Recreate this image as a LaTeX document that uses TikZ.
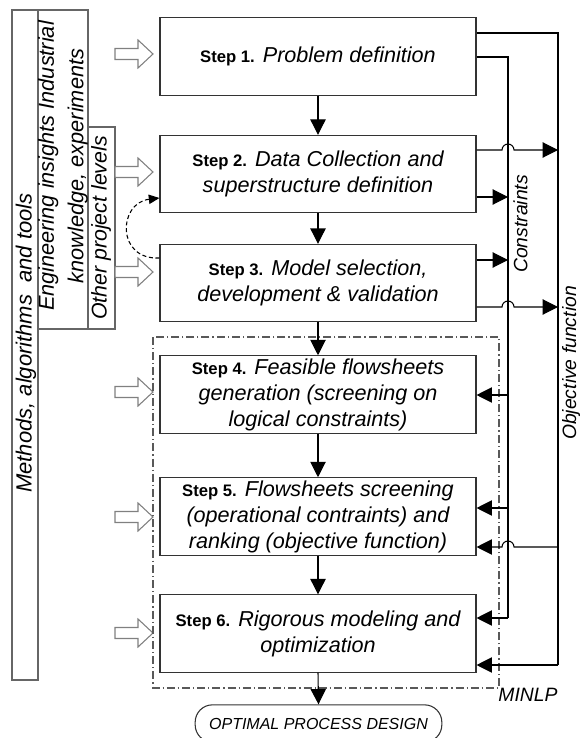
\documentclass[tikz,border=0pt]{standalone}
\usepackage{fontspec}
\setmainfont{Liberation Sans}
\usetikzlibrary{arrows.meta,calc}
\newcommand{\stl}[1]{{\fontsize{12.5}{19.5}\selectfont\bfseries\upshape #1}}
\begin{document}
\begin{tikzpicture}[x=0.75pt,y=-0.75pt,
  stepbox/.style={draw=black!80,line width=0.8pt,minimum width=237pt,minimum height=58pt,
    align=center,font=\fontsize{16.2}{19.5}\selectfont\itshape,inner sep=2pt},
  ln/.style={line width=0.8pt},
  arr/.style={ln,-{Triangle[width=11.5pt,length=11.5pt]}},
  hollow/.style={draw=black!50,line width=0.8pt,fill=white},
  lbox/.style={draw=black!60,line width=0.8pt},
  lefttxt/.style={rotate=90,align=center,font=\fontsize{16.5}{17}\selectfont\itshape,inner sep=0pt},
  sidetxt/.style={rotate=90,font=\fontsize{14.5}{16}\selectfont\itshape,inner sep=0pt},
  mdash/.style={draw=black!65,line width=0.8pt,dash pattern=on 6pt off 2.2pt on 1pt off 2.2pt}
]
\useasboundingbox (0,0) rectangle (581,738);
\clip (0,0) rectangle (581,738);

% left panels
\draw[lbox] (12,10) rectangle (38,680);
\draw[lbox] (38,10) rectangle (88,329);
\draw[lbox] (88,127) rectangle (115,329);
\node[lefttxt] (meth) at (26,343) {Methods, algorithms\ \ and tools};
\node[lefttxt,font=\fontsize{16.3}{22}\selectfont\itshape] (eng) at (63,166) {Engineering insights Industrial\\knowledge, experiments};
\node[lefttxt,font=\fontsize{16}{17}\selectfont\itshape] (oth) at (101,228) {Other project levels};

% hollow arrows
\foreach \y in {54,172,272,392,517,633}{
  \draw[hollow] (115,\y-5.5) -- (138,\y-5.5) -- (138,\y-14) -- (153,\y) -- (138,\y+14) -- (138,\y+5.5) -- (115,\y+5.5) -- cycle;
}

% MINLP dash-dot frame
\draw[mdash] (153,337) rectangle (499,688);
\node[font=\fontsize{14.5}{16}\selectfont\itshape,inner sep=0pt] (minlp) at (528,695) {MINLP};

% steps
\node[stepbox] (s1) at (318,56.5) {\stl{Step 1.} Problem definition};
\node[stepbox] (s2) at (318,174) {\stl{Step 2.} Data Collection and\\superstructure definition};
\node[stepbox] (s3) at (318,283) {\stl{Step 3.} Model selection,\\development \& validation};
\node[stepbox] (s4) at (318,394.5) {\stl{Step 4.} Feasible flowsheets\\generation (screening on\\logical constraints)};
\node[stepbox] (s5) at (318,516.5) {\stl{Step 5.} Flowsheets screening\\(operational contraints) and\\ranking (objective function)};
\node[stepbox] (s6) at (318,633.5) {\stl{Step 6.} Rigorous modeling and\\optimization};
\node[draw=black!80,line width=0.8pt,rounded corners=13pt,minimum width=185pt,minimum height=28pt,
  font=\fontsize{12}{14}\selectfont\itshape,inner sep=1pt] (t) at (318.5,723.5) {OPTIMAL PROCESS DESIGN};

% vertical flow
\draw[arr] (s1.south) -- (s2.north);
\draw[arr] (s2.south) -- (s3.north);
\draw[arr] (s3.south) -- (s4.north);
\draw[arr] (s4.south) -- (s5.north);
\draw[arr] (s5.south) -- (s6.north);
\draw[arr] (s6.south) -- (t.north);

% feedback dashed
\coordinate (dA) at (0,258);
\coordinate (dB) at (0,198);
\draw[line width=0.8pt,dash pattern=on 3pt off 2pt,-{Triangle[width=7pt,length=8pt]}]
  (s3.west |- dA) .. controls (116,260) and (118,203) .. (s2.west |- dB);

% right-side connectors
\coordinate (objTop) at (558,33);
\coordinate (consTop) at (508,57);
\coordinate (o2) at (558,150);
\coordinate (c2) at (508,197);
\coordinate (c3) at (508,260);
\coordinate (o3) at (558,307);
\coordinate (c4) at (508,395);
\coordinate (c5) at (508,508);
\coordinate (o5) at (558,547);
\coordinate (c6) at (508,618);
\coordinate (o6) at (558,665);

\draw[ln] (s1.east |- objTop) -- (objTop) -- (o6);
\draw[arr] (o6) -- (s6.east |- o6);
\draw[ln] (s1.east |- consTop) -- (consTop) -- (c6);
\draw[arr] (c6) -- (s6.east |- c6);
\draw[arr] (c4) -- (s4.east |- c4);
\draw[arr] (c5) -- (s5.east |- c5);
\draw[arr] (s2.east |- c2) -- (c2);
\draw[arr] (s3.east |- c3) -- (c3);
\draw[arr] (s2.east |- o2) -- ($(c2 |- o2)+(-6,0)$) arc (180:360:6) -- (o2);
\draw[arr] (s3.east |- o3) -- ($(c3 |- o3)+(-6,0)$) arc (180:360:6) -- (o3);
\draw[arr] (o5) -- ($(c5 |- o5)+(6,0)$) arc (0:-180:6) -- (s5.east |- o5);

\node[sidetxt] (cons) at (520.5,224) {Constraints};
\node[sidetxt] (obj) at (571,363) {Objective function};
\end{tikzpicture}
\end{document}
